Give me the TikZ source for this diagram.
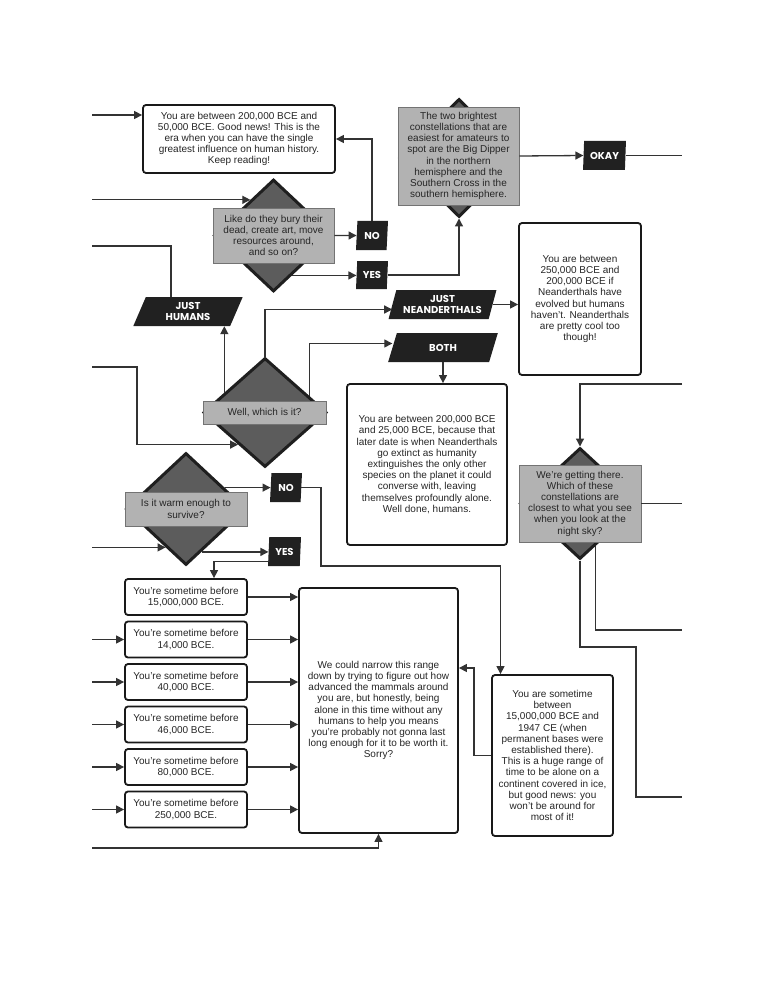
\documentclass[tikz,border=0pt]{standalone}
\usepackage{fontspec}
\setmainfont{Liberation Sans}
\newfontfamily\tagfont{Poppins}
\usetikzlibrary{shapes.geometric,arrows.meta}
\begin{document}
\begin{tikzpicture}[x=1pt,y=-1pt,
  wh/.style 2 args={minimum width=#1pt,minimum height=#2pt},
  txt/.style={align=center,text=black!85,inner sep=0pt,font=\fontsize{10}{11.2}\selectfont},
  box/.style={txt,draw=black!90,line width=1.8pt,rounded corners=3pt,fill=white},
  ask/.style={txt,draw=black!55,line width=0.8pt,fill=black!30},
  dia/.style={diamond,draw=black!88,line width=3pt,fill=black!64,inner sep=0pt},
  tag/.style={trapezium,trapezium stretches=true,fill=black!87,text=white,inner sep=0pt,align=center,
    font=\tagfont\bfseries\fontsize{10}{11}\selectfont},
  slim/.style={tag,trapezium left angle=84,trapezium right angle=96},
  wide/.style={tag,trapezium left angle=70,trapezium right angle=110},
  link/.style={draw=black!80,line width=1.3pt},
  arr/.style={link,-{Triangle[length=8pt,width=8pt]}}]
\useasboundingbox (0,0) rectangle (772,1000);
\coordinate (lft) at (92,0);
\coordinate (rgt) at (682,0);

\node[box,wh={192}{68}] (A) at (239,139) {You are between 200,000 BCE and\\50,000 BCE. Good news! This is the\\era when you can have the single\\greatest influence on human history.\\Keep reading!};
\node[dia,wh={119}{112}] (D1) at (273.5,235.5) {};
\node[ask,wh={121}{55}] (R1) at (273.5,235.5) {Like do they bury their\\dead, create art, move\\resources around,\\and so on?};
\node[slim,wh={32}{29}] (NO1) at (372,235.5) {NO};
\node[slim,wh={32}{28}] (YES1) at (372,275) {YES};
\node[dia,wh={119}{118}] (Bd) at (459,158) {};
\node[ask,wh={121}{98}] (B) at (458.5,156) {The two brightest\\constellations that are\\easiest for amateurs to\\spot are the Big Dipper\\in the northern\\hemisphere and the\\Southern Cross in the\\southern hemisphere.};
\node[slim,wh={43}{29}] (OKAY) at (604.5,155.5) {OKAY};
\node[wide,wh={110}{29}] (JH) at (188,311.5) {JUST\\HUMANS};
\node[wide,wh={109}{29}] (JN) at (442.5,304.5) {JUST\\NEANDERTHALS};
\node[wide,wh={110}{29}] (BOTH) at (443,347.5) {BOTH};
\node[box,wh={122}{152}] (C) at (580,299) {You are between\\250,000 BCE and\\200,000 BCE if\\Neanderthals have\\evolved but humans\\haven't. Neanderthals\\are pretty cool too\\though!};
\node[dia,wh={123}{109}] (D2) at (265,412.5) {};
\node[ask,wh={123}{23}] (R2) at (264.5,412.5) {Well, which is it?};
\node[box,wh={160}{161}] (D) at (427,464.5) {You are between 200,000 BCE\\and 25,000 BCE, because that\\later date is when Neanderthals\\go extinct as humanity\\extinguishes the only other\\species on the planet it could\\converse with, leaving\\themselves profoundly alone.\\Well done, humans.};
\node[dia,wh={120}{111}] (D3) at (580,503.5) {};
\node[ask,wh={122}{77}] (R3) at (580,503.5) {We're getting there.\\Which of these\\constellations are\\closest to what you see\\when you look at the\\night sky?};
\node[dia,wh={120}{112}] (D4) at (186,509) {};
\node[ask,wh={122}{34}] (R4) at (186,509) {Is it warm enough to\\survive?};
\node[slim,wh={32}{29}] (NO2) at (286,487.5) {NO};
\node[slim,wh={33}{29}] (YES2) at (284.5,551.5) {YES};
\node[box,wh={122}{36}] (S1) at (186,597) {You're sometime before\\15,000,000 BCE.};
\node[box,wh={122}{36}] (S2) at (186,639.5) {You're sometime before\\14,000 BCE.};
\node[box,wh={122}{36}] (S3) at (186,682) {You're sometime before\\40,000 BCE.};
\node[box,wh={122}{36}] (S4) at (186,724.5) {You're sometime before\\46,000 BCE.};
\node[box,wh={122}{36}] (S5) at (186,767) {You're sometime before\\80,000 BCE.};
\node[box,wh={122}{36}] (S6) at (186,809.5) {You're sometime before\\250,000 BCE.};
\node[box,wh={159}{245}] (E) at (378.5,710.5) {We could narrow this range\\down by trying to figure out how\\advanced the mammals around\\you are, but honestly, being\\alone in this time without any\\humans to help you means\\you're probably not gonna last\\long enough for it to be worth it.\\Sorry?};
\node[box,wh={121}{161}] (F) at (552.5,755.5) {You are sometime\\between\\15,000,000 BCE and\\1947 CE (when\\permanent bases were\\established there).\\This is a huge range of\\time to be alone on a\\continent covered in ice,\\but good news: you\\won't be around for\\most of it!};

\draw[arr] (lft |- 0,115) -- (A.west |- 0,115);
\draw[arr] (NO1.north) |- (A.east);
\draw[arr] (D1.123 -| lft) -- (D1.123);
\draw[arr] (R1.east) -- (NO1.west);
\draw[arr] (D1.-65) -- (D1.-65 -| YES1.west);
\draw[arr] (YES1.east) -| (Bd.south);
\draw[arr] (B.east) -- (OKAY.west);
\draw[link] (OKAY.east) -- (OKAY.east -| rgt);
\draw[link] (lft |- 0,246) -| ([xshift=-17pt]JH.north);
\draw[arr] (D2.154) -- (D2.154 |- JH.south);
\draw[arr] (D2.north) |- ([yshift=-5pt]JN.west);
\draw[arr] (D2.20) |- ([yshift=4pt]BOTH.west);
\draw[arr] (lft |- 0,367) -| (D2.230 -| 137,0) -- (D2.230);
\draw[arr] (JN.east) -- (JN.east -| C.west);
\draw[arr] (BOTH.south) -- (BOTH.south |- D.north);
\draw[arr] (rgt |- 0,384) -| (D3.north);
\draw[link] (R3.east) -- (R3.east -| rgt);
\draw[link] (D3.-70) |- (rgt |- 0,630);
\draw[link] (D3.south) |- (636,647) |- (rgt |- 0,797);
\draw[arr] (D4.242 -| lft) -- (D4.242);
\draw[arr] (D4.29) -- (D4.29 -| NO2.west);
\draw[arr] (D4.-70) -- (D4.-70 -| YES2.west);
\draw[arr] (NO2.east) -| (321,566) -| ([xshift=-52pt]F.north);
\draw[arr] ([yshift=5pt]YES2.south west) -| ([xshift=28pt]S1.north);
\draw[arr] (S1.east) -- (S1.east -| E.west);
\draw[arr] (S2.west -| lft) -- (S2.west);
\draw[arr] (S2.east) -- (S2.east -| E.west);
\draw[arr] (S3.west -| lft) -- (S3.west);
\draw[arr] (S3.east) -- (S3.east -| E.west);
\draw[arr] (S4.west -| lft) -- (S4.west);
\draw[arr] (S4.east) -- (S4.east -| E.west);
\draw[arr] (S5.west -| lft) -- (S5.west);
\draw[arr] (S5.east) -- (S5.east -| E.west);
\draw[arr] (S6.west -| lft) -- (S6.west);
\draw[arr] (S6.east) -- (S6.east -| E.west);
\draw[arr] (F.west) -- ++(-17,0) |- ([yshift=42.5pt]E.east);
\draw[arr] (lft |- 0,848) -| (E.south);
\end{tikzpicture}
\end{document}
